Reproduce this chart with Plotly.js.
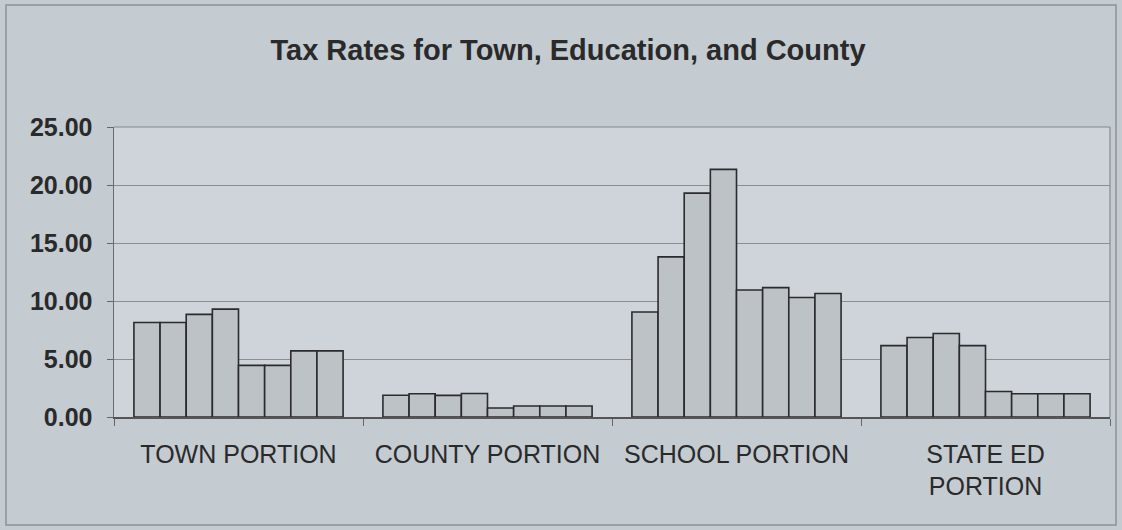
<!DOCTYPE html>
<html>
<head>
<meta charset="utf-8">
<script src="https://cdn.plot.ly/plotly-3.0.1.min.js"></script>
<style>
html,body{margin:0;padding:0;background:#c4cbd1;}
#chart{width:1122px;height:530px;}
</style>
</head>
<body>
<div id="chart"></div>
<script>
const categories = ["TOWN PORTION", "COUNTY PORTION", "SCHOOL PORTION", "STATE ED<br>PORTION"];
// Eight series per category
const series1 = [8.15, 1.88, 9.05, 6.15];
const series2 = [8.15, 2.00, 13.80, 6.85];
const series3 = [8.85, 1.86, 19.30, 7.20];
const series4 = [9.30, 2.02, 21.35, 6.15];
const series5 = [4.45, 0.78, 10.95, 2.20];
const series6 = [4.45, 0.95, 11.15, 2.00];
const series7 = [5.70, 0.95, 10.30, 2.00];
const series8 = [5.70, 0.95, 10.65, 2.00];
const allSeries = [series1, series2, series3, series4, series5, series6, series7, series8];
const yTicks = [0, 5, 10, 15, 20, 25];

const traces = allSeries.map((vals, i) => ({
  type: 'bar',
  name: 'Series ' + (i + 1),
  x: categories,
  y: vals,
  marker: {color: '#bdc2c7', line: {color: '#2b2b2e', width: 1.6}},
  hoverinfo: 'y'
}));

const layout = {
  width: 1122, height: 530,
  paper_bgcolor: '#c4cbd1',
  plot_bgcolor: '#ced4d9',
  margin: {l: 114, r: 12, t: 127, b: 113},
  showlegend: false,
  barmode: 'group',
  bargap: 0.16,
  bargroupgap: 0,
  font: {family: 'Liberation Sans, Arial, sans-serif', color: '#2a2a2a'},
  title: {
    text: '<b>Tax Rates for Town, Education, and County</b>',
    font: {size: 29, color: '#2a2a2a', family: 'Liberation Sans, Arial, sans-serif'},
    x: 568/1122, xanchor: 'center', xref: 'container',
    y: 1 - 50/530, yanchor: 'middle', yref: 'container'
  },
  xaxis: {
    type: 'category',
    tickson: 'boundaries',
    ticks: 'outside', ticklen: 7, tickcolor: '#666',
    showline: true, linecolor: '#555', linewidth: 1.5,
    mirror: false,
    tickfont: {size: 25, color: '#2a2a2a'},
    ticklabelstandoff: 14,
    showgrid: false
  },
  yaxis: {
    range: [0, 25],
    tickvals: yTicks,
    ticktext: yTicks.map(v => '<b>' + v.toFixed(2) + '</b>'),
    ticks: 'outside', ticklen: 6, tickcolor: '#666',
    showline: true, linecolor: '#6a6a72', linewidth: 1.5,
    tickfont: {size: 25, color: '#2a2a2a'},
    ticklabelstandoff: 9,
    showgrid: true, gridcolor: '#8a8e92', gridwidth: 1,
    zeroline: false
  },
  shapes: [
    {type: 'line', xref: 'paper', yref: 'paper', x0: 0, x1: 1, y0: 1, y1: 1, line: {color: '#8a8a8a', width: 1.2}},
    {type: 'line', xref: 'paper', yref: 'paper', x0: 1, x1: 1, y0: 0, y1: 1, line: {color: '#8a8a8a', width: 1.2}},
    {type: 'rect', xref: 'paper', yref: 'paper', x0: -108/996, x1: 1 + 6/996, y0: -108/290, y1: 1 + 122/290, line: {color: '#8e9398', width: 1.5}, fillcolor: 'rgba(0,0,0,0)'}
  ]
};

Plotly.newPlot('chart', traces, layout, {displayModeBar: false, staticPlot: true});
</script>
</body>
</html>
